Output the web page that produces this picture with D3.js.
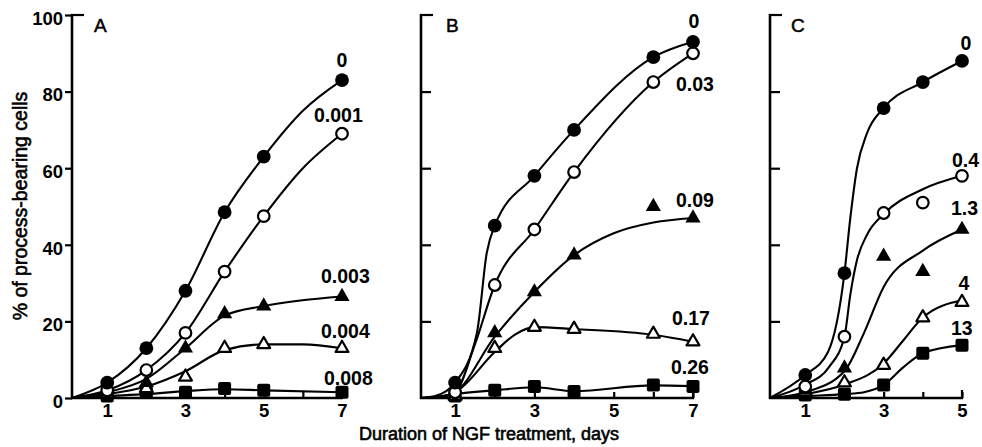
<!DOCTYPE html>
<html><head><meta charset="utf-8">
<script src="https://cdn.jsdelivr.net/npm/d3@7"></script>
<style>body{margin:0;background:#fff} svg{display:block}</style>
</head><body><svg id="c" width="982" height="447"></svg>
<script>
// ---------------- DATA ----------------
const yTicks = [0, 20, 40, 60, 80, 100];
const yTickLabels = ["0", "20", "40", "60", "80", "100"];
const xTicksAB = [1, 2, 3, 4, 5, 6, 7];
const xTicksC = [1, 2, 3, 4, 5];
const xLabeledAB = [1, 3, 5, 7];
const xLabeledC = [1, 3, 5];
const panelNames = ["A", "B", "C"];
const yTitle = "% of process-bearing cells";
const xTitle = "Duration of NGF treatment, days";

// Panel A (days 1-7)
const daysA = [1, 2, 3, 4, 5, 7];
const labelsA = ["0", "0.001", "0.003", "0.004", "0.008"];
const A_0     = [4, 13, 28, 48.5, 63, 83];
const A_0001  = [2, 7.3, 17, 33, 47.5, 69];
const A_0003  = [1.5, 4, 13, 22, 24, 26.5];
const A_0004  = [1, 2.5, 5.5, 13, 14, 13];
const A_0008  = [0.5, 1.5, 1.5, 2.5, 2, 1.5];
const fitA_0    = [[0.1,0],[1,4],[2,13],[3,28],[4,48.5],[5,63],[6,75],[7,83]];
const fitA_0001 = [[0.1,0],[1,2],[2,7.3],[3,17],[4,33],[5,47.5],[6,60],[7,69]];
const fitA_0003 = [[0.1,0],[1,1.5],[2,5],[3,13],[4,21.5],[5,24],[7,26.5]];
const fitA_0004 = [[0.1,0],[1,1],[2,3],[3,7],[4,12.5],[5,14],[6,14],[7,13]];
const fitA_0008 = [[0.1,0],[1,0.5],[2,1],[3,1.8],[4,2.3],[5,2],[7,1.5]];

// Panel B (days 1-7)
const daysB = [1, 2, 3, 4, 6, 7];
const labelsB = ["0", "0.03", "0.09", "0.17", "0.26"];
const B_0    = [4, 45, 58, 70, 89, 93];
const B_003  = [1.5, 29.5, 44, 59, 82.5, 90];
const B_009  = [1, 17, 27.7, 37.3, 50, 47];
const B_017  = [0.5, 13, 18.5, 18, 16.7, 14.7];
const B_026  = [0.5, 2, 3, 1.7, 3.4, 3];
const fitB_0   = [[0.14,0],[0.5,0.5],[1,4],[1.55,17],[1.8,38],[2,45],[3,58],[4,70],[6,89],[7,93]];
const fitB_003 = [[0.14,0],[0.6,0.3],[1,1.5],[1.5,14],[2,29.5],[3,44],[4,59],[6,82.5],[7,90]];
const fitB_009 = [[0.14,0],[0.6,0.3],[1,1.5],[2,16],[3,27.7],[4,37.3],[5,43],[6,45.8],[7,47]];
const fitB_017 = [[0.14,0],[0.6,0.3],[1,1.5],[2,12],[2.5,16.5],[3,18.5],[4,18],[6,16.5],[7,14.7]];
const fitB_026 = [[0.14,0],[0.6,0.3],[1,1],[2,2],[3,2.8],[4,1.8],[6,3.3],[7,3.1]];

// Panel C (days 1-5)
const daysC = [1, 2, 3, 4, 5];
const labelsC = ["0", "0.4", "1.3", "4", "13"];
const C_0   = [6, 32.6, 75.7, 82.5, 88];
const C_04  = [3, 16, 48.3, 51, 58];
const C_13  = [2, 7.8, 37, 33, 44];
const C_4   = [1.5, 4, 8.6, 21, 25];
const C_130 = [0.8, 1, 3.4, 11.7, 13.8];
const fitC_0   = [[0.1,0],[1,6],[1.58,12],[2,32.6],[2.15,47],[2.32,60],[2.57,69],[3,75.7],[4,82.5],[5,88]];
const fitC_04  = [[0.1,0],[1,3.5],[1.6,8],[2,16],[2.15,27],[2.32,36],[2.57,42.5],[3,48],[4,54.5],[5,58]];
const fitC_13  = [[0.1,0],[1,1.5],[2,7],[2.5,17],[3,29],[4,38.5],[5,44]];
const fitC_4   = [[0.1,0],[1,1],[2,3.5],[3,9],[3.5,15],[4,21],[5,25.5]];
const fitC_130 = [[0.1,0],[1,0.5],[2,1],[2.5,1.5],[3,3.4],[3.5,8],[4,11.7],[5,13.8]];

const markerTypes = ["filledCircle", "openCircle", "filledTriangle", "openTriangle", "filledSquare"];

// ---------------- LAYOUT ----------------
const svg = d3.select("#c");
const FONT = "'Liberation Sans', Arial, Helvetica, sans-serif";
const y = d3.scaleLinear().domain([0, 100]).range([398, 15]);

const panels = [
  { name: panelNames[0], x: d3.scaleLinear().domain([0.1, 7]).range([72, 342]), ticks: xTicksAB, labeled: xLabeledAB, end: 7,
    days: daysA, labels: labelsA, values: [A_0, A_0001, A_0003, A_0004, A_0008], fits: [fitA_0, fitA_0001, fitA_0003, fitA_0004, fitA_0008],
    yLabels: true, letter: [22, 32],
    lab: [["middle",0,-13],["start",-28,-12],["start",-21,-13.5],["start",-21,-10],["start",-18,-7]] },
  { name: panelNames[1], x: d3.scaleLinear().domain([0.14, 7]).range([421, 693]), ticks: xTicksAB, labeled: xLabeledAB, end: 7,
    days: daysB, labels: labelsB, values: [B_0, B_003, B_009, B_017, B_026], fits: [fitB_0, fitB_003, fitB_009, fitB_017, fitB_026],
    yLabels: false, letter: [25, 32],
    lab: [["middle",1,-14],["start",-17,38],["start",-17,-11],["start",-21,-17],["start",-22,-12.5]] },
  { name: panelNames[2], x: d3.scaleLinear().domain([0.1, 5]).range([770, 962]), ticks: xTicksC, labeled: xLabeledC, end: 5,
    days: daysC, labels: labelsC, values: [C_0, C_04, C_13, C_4, C_130], fits: [fitC_0, fitC_04, fitC_13, fitC_4, fitC_130],
    yLabels: false, letter: [21, 32],
    lab: [["middle",4,-11],["start",-10,-9],["start",-11,-14.5],["middle",2,-12],["start",-11,-10]] }
];

const line = (x) => d3.line().x(d => x(d[0])).y(d => y(d[1])).curve(d3.curveMonotoneX);

function drawMarker(g, type, cx, cy) {
  if (type === "filledCircle") {
    g.append("circle").attr("cx", cx).attr("cy", cy).attr("r", 6.9).attr("fill", "#000");
  } else if (type === "openCircle") {
    g.append("circle").attr("cx", cx).attr("cy", cy).attr("r", 5.8).attr("fill", "#fff").attr("stroke", "#000").attr("stroke-width", 2.2);
  } else if (type === "filledTriangle") {
    g.append("path").attr("d", d3.symbol().type(d3.symbolTriangle).size(100)()).attr("transform", `translate(${cx},${cy})`).attr("fill", "#000");
  } else if (type === "openTriangle") {
    g.append("path").attr("d", d3.symbol().type(d3.symbolTriangle).size(72)()).attr("transform", `translate(${cx},${cy})`)
      .attr("fill", "#fff").attr("stroke", "#000").attr("stroke-width", 2.2).attr("stroke-linejoin", "round");
  } else {
    g.append("rect").attr("x", cx - 6.5).attr("y", cy - 6.5).attr("width", 13).attr("height", 13).attr("rx", 2).attr("fill", "#000");
  }
}

panels.forEach(p => {
  const g = svg.append("g");
  const x = p.x;
  const x0 = x.range()[0];
  const xEnd = x(p.end);

  // Y axis
  const yAxis = (p.yLabels ? d3.axisLeft(y).tickSize(7).tickPadding(2) : d3.axisRight(y).tickSize(10))
    .tickValues(p.yLabels ? yTicks : yTicks.slice(1, 5))
    .tickSizeOuter(0)
    .tickFormat((d) => p.yLabels ? yTickLabels[yTicks.indexOf(d)] : "");
  const ya = g.append("g").attr("transform", `translate(${x0},0)`).call(yAxis);
  ya.select(".domain").remove();
  ya.selectAll("line").attr("stroke", "#000").attr("stroke-width", 2.2);
  ya.selectAll("text").attr("font-family", FONT).attr("font-size", 18.5).attr("font-weight", "bold").attr("fill", "#000").attr("dy", "0.5em");
  g.append("line").attr("x1", x0).attr("x2", x0).attr("y1", y(0) + 1).attr("y2", y(100) - 1).attr("stroke", "#000").attr("stroke-width", 2.6);
  g.append("line").attr("x1", x0 - 1).attr("x2", x0 + 12).attr("y1", y(100)).attr("y2", y(100)).attr("stroke", "#000").attr("stroke-width", 2.2);

  // X axis
  const xAxis = d3.axisBottom(x).tickValues(p.ticks).tickSize(-6).tickSizeOuter(0).tickPadding(6)
    .tickFormat(d => p.labeled.includes(d) ? String(d) : "");
  const xa = g.append("g").attr("transform", `translate(0,${y(0)})`).call(xAxis);
  xa.select(".domain").remove();
  xa.selectAll("line").attr("stroke", "#000").attr("stroke-width", 2.2);
  xa.selectAll("text").attr("font-family", FONT).attr("font-size", 18.5).attr("font-weight", "bold").attr("fill", "#000");
  g.append("line").attr("x1", x0 - 1).attr("x2", xEnd + 1).attr("y1", y(0)).attr("y2", y(0)).attr("stroke", "#000").attr("stroke-width", 2.6);
  g.append("line").attr("x1", xEnd).attr("x2", xEnd).attr("y1", y(0)).attr("y2", y(0) - 8).attr("stroke", "#000").attr("stroke-width", 2.2);

  // panel letter
  g.append("text").attr("x", x0 + p.letter[0]).attr("y", p.letter[1]).text(p.name)
    .attr("font-family", FONT).attr("font-size", 19).attr("fill", "#000").attr("stroke", "#000").attr("stroke-width", 0.5);

  // curves
  p.fits.forEach(f => {
    g.append("path").attr("d", line(x)(f)).attr("fill", "none").attr("stroke", "#000").attr("stroke-width", 2.1);
  });

  // markers (bottom series first)
  for (let s = p.values.length - 1; s >= 0; s--) {
    p.values[s].forEach((v, i) => drawMarker(g, markerTypes[s], x(p.days[i]), y(v)));
  }

  // labels
  p.labels.forEach((t, s) => {
    const vals = p.values[s];
    const lx = x(p.days[p.days.length - 1]);
    const ly = y(vals[vals.length - 1]);
    const L = p.lab[s];
    g.append("text").attr("x", lx + L[1]).attr("y", ly + L[2]).attr("text-anchor", L[0]).text(t)
      .attr("font-family", FONT).attr("font-size", 19.5).attr("font-weight", "bold").attr("fill", "#000");
  });
});

// axis titles
svg.append("text").attr("transform", "translate(27,206) rotate(-90)").attr("text-anchor", "middle").text(yTitle)
  .attr("font-family", FONT).attr("font-size", 19.5).attr("fill", "#000").attr("stroke", "#000").attr("stroke-width", 0.6);
svg.append("text").attr("x", 489).attr("y", 440).attr("text-anchor", "middle").text(xTitle)
  .attr("font-family", FONT).attr("font-size", 18).attr("fill", "#000").attr("stroke", "#000").attr("stroke-width", 0.6);
</script>
</body></html>
